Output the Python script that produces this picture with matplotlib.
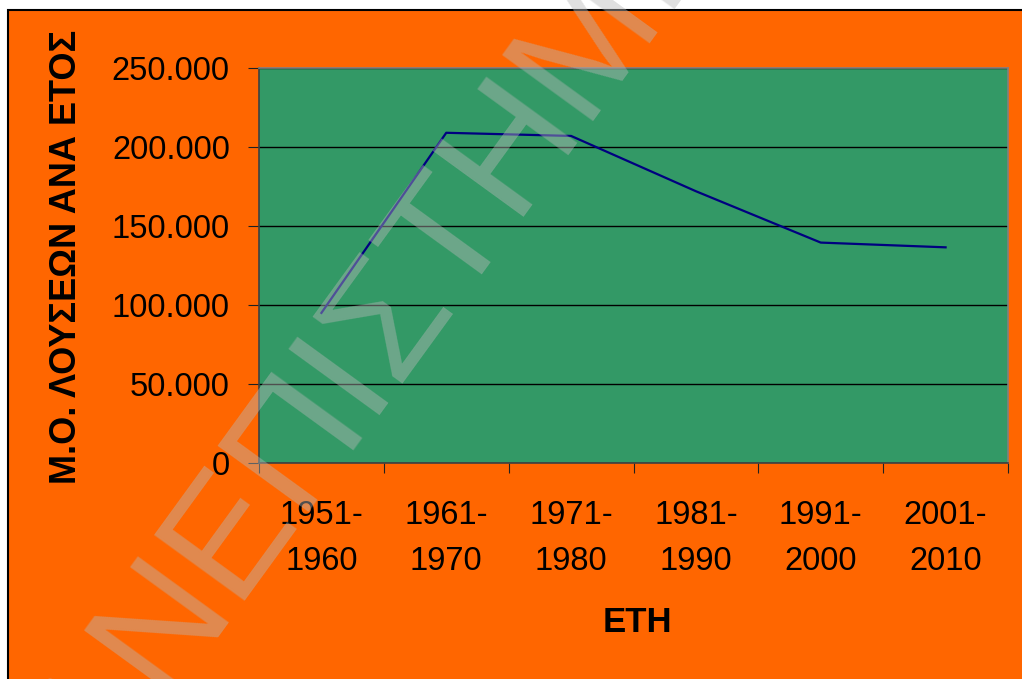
import matplotlib
matplotlib.use("Agg")
import matplotlib.pyplot as plt
from matplotlib.patches import Rectangle
from matplotlib.ticker import FuncFormatter, FixedLocator

plt.rcParams["font.family"] = ["Liberation Sans", "DejaVu Sans"]

periods = ["1951-\n1960", "1961-\n1970", "1971-\n1980", "1981-\n1990", "1991-\n2000", "2001-\n2010"]
avg_baths = [95000, 209000, 207000, 172000, 139500, 136500]
y_ticks = [0, 50000, 100000, 150000, 200000, 250000]

W, H = 1022, 679
fig = plt.figure(figsize=(W / 100, H / 100), dpi=100, facecolor="white")

# orange chart area with black frame
fig.patches.append(Rectangle((8 / W, -0.05), 1.1, 1 - 10 / H + 0.05,
                             transform=fig.transFigure, facecolor="#FF6600",
                             edgecolor="black", lw=1.5, zorder=-10))

ax = fig.add_axes([259 / W, 1 - 463 / H, (1008 - 259) / W, (463 - 68) / H])
ax.set_facecolor("#339966")

x = list(range(len(avg_baths)))
ax.plot(x, avg_baths, color="#000080", lw=1.6, zorder=3)

ax.set_xlim(-0.5, len(avg_baths) - 0.5)
ax.set_ylim(0, 250000)
ax.set_yticks(y_ticks)
ax.yaxis.set_major_formatter(FuncFormatter(lambda v, p: f"{int(v):,}".replace(",", ".")))
ax.grid(axis="y", color="black", lw=1.0, zorder=1)
ax.set_axisbelow(True)

# ticks on category borders, labels centred
ax.xaxis.set_major_locator(FixedLocator([i - 0.5 for i in range(len(avg_baths) + 1)]))
ax.xaxis.set_major_formatter(FuncFormatter(lambda v, p: ""))
ax.xaxis.set_minor_locator(FixedLocator(x))
ax.set_xticklabels(periods, minor=True)
for lbl in ax.get_xticklabels(minor=True):
    lbl.set_linespacing(1.6)
ax.tick_params(axis="x", which="major", direction="out", length=7, color="#202020")
ax.tick_params(axis="x", which="minor", length=0, pad=27, labelsize=23.5)
ax.tick_params(axis="y", direction="out", length=8, pad=13, labelsize=23.5, color="#202020")

for s in ["left", "bottom"]:
    ax.spines[s].set_color("#404040")
    ax.spines[s].set_linewidth(1.2)
for s in ["top", "right"]:
    ax.spines[s].set_color("#808080")
    ax.spines[s].set_linewidth(1.2)

fig.text(67 / W, 1 - 257 / H, "Μ.Ο. ΛΟΥΣΕΩΝ ΑΝΑ ΕΤΟΣ", rotation=90, ha="center", va="center",
         fontsize=26, fontweight="bold")
fig.text(637 / W, 1 - 622 / H, "ΕΤΗ", ha="center", va="center", fontsize=25, fontweight="bold")

# watermark
fig.text(362 / W, 1 - 350 / H, "ΠΑΝΕΠΙΣΤΗΜΙΟ", rotation=54, rotation_mode="anchor",
         ha="center", va="center", fontsize=118, color="#B8B8B8", alpha=0.435, zorder=20)

fig.savefig("out.png", dpi=100, facecolor="white")
